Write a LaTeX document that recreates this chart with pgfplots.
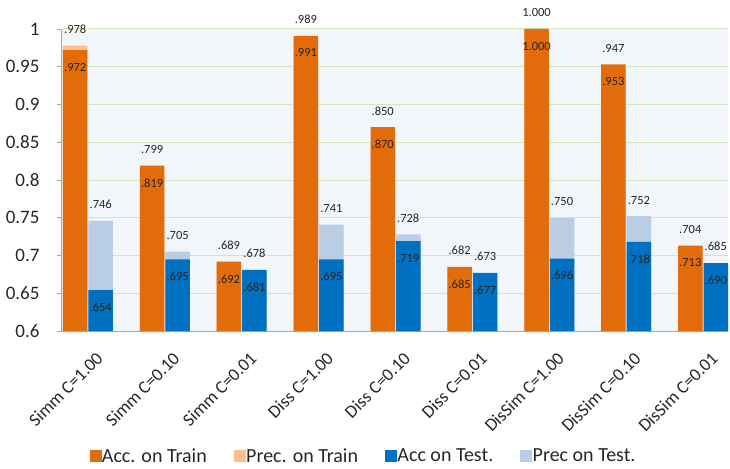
\documentclass[border=0pt]{standalone}
\usepackage{fontspec}
\setmainfont{Carlito}
\usepackage{pgfplots}
\usepackage{pgfplotstable}
\pgfplotsset{compat=1.18}

\definecolor{accTrain}{HTML}{E36C0A}
\definecolor{precTrain}{HTML}{FAC090}
\definecolor{accTest}{HTML}{0070C0}
\definecolor{precTest}{HTML}{B9CDE5}
\definecolor{panel}{HTML}{F2F5FA}
\definecolor{gridgreen}{HTML}{D0E7BE}
\definecolor{axisgray}{HTML}{A6A6A6}
\definecolor{txt}{HTML}{262626}

% accuracy and precision per configuration, on train and test data
\pgfplotstableread{
x trAcc trPrec teAcc tePrec
0 0.972 0.978 0.654 0.746
1 0.819 0.799 0.695 0.705
2 0.692 0.689 0.681 0.678
3 0.991 0.989 0.695 0.741
4 0.870 0.850 0.719 0.728
5 0.685 0.682 0.677 0.673
6 1.000 1.000 0.696 0.750
7 0.953 0.947 0.718 0.752
8 0.713 0.704 0.690 0.685
}\results

\newcommand{\valfmt}{\pgfmathprintnumber[fixed,fixed zerofill,precision=3,skip 0.=true]{\pgfplotspointmeta}}

\begin{document}
\begin{tikzpicture}[x=1pt,y=1pt]
\useasboundingbox (-62,-137) rectangle (668,331);
\begin{axis}[
  width=666pt, height=302pt, scale only axis,
  /pgf/number format/assume math mode=true,
  ymin=0.6, ymax=1, xmin=-0.338, xmax=8.325,
  ytick={0.6,0.65,0.7,0.75,0.8,0.85,0.9,0.95,1},
  xtick={0,...,8},
  xticklabels={Simm C=1.00,Simm C=0.10,Simm C=0.01,Diss C=1.00,Diss C=0.10,Diss C=0.01,DisSim C=1.00,DisSim C=0.10,DisSim C=0.01},
  axis x line*=bottom, axis y line*=left,
  axis line style={axisgray, line width=1pt},
  x axis line style={-}, y axis line style={-},
  xtick style={draw=none},
  ytick style={axisgray, line width=0.8pt},
  tick align=outside, major tick length=5pt,
  ymajorgrids, grid style={gridgreen, line width=1pt},
  axis background/.style={fill=panel},
  yticklabel style={font=\fontsize{19}{19}\selectfont, text=txt, xshift=-14pt},
  xticklabel style={font=\fontsize{18}{18}\selectfont, text=txt, xshift=7pt, yshift=-10pt, rotate=45, anchor=north east},
  ybar, bar width=24.5pt,
  legend style={at={(0.452,-0.415)}, anchor=center, draw=none, fill=none,
    legend columns=4, font=\fontsize{20}{20}\selectfont, text=txt,
    nodes={inner sep=1pt},
    /tikz/every even column/.append style={column sep=26pt}},
  legend image code/.code={\fill[#1] (0pt,-4.5pt) rectangle (11pt,6.5pt);},
  nodes near coords style={font=\fontsize{12.5}{12.5}\selectfont, text=txt},
]
\addlegendimage{accTrain}
\addlegendentry{Acc. on Train}
\addlegendimage{precTrain}
\addlegendentry{Prec. on Train}
\addlegendimage{accTest}
\addlegendentry{Acc on Test.}
\addlegendimage{precTest}
\addlegendentry{Prec on Test.}

% precision bars sit behind the accuracy bars
\addplot[forget plot, fill=precTrain, draw=none, bar shift=-12.75pt] table[x=x, y=trPrec] {\results};
\addplot[forget plot, fill=precTest, draw=none, bar shift=12.75pt] table[x=x, y=tePrec] {\results};
\addplot[forget plot, fill=accTrain, draw=none, bar shift=-12.75pt,
  nodes near coords=\valfmt,
  every node near coord/.append style={anchor=north, yshift=-9.5pt}] table[x=x, y=trAcc] {\results};
\addplot[forget plot, fill=accTest, draw=none, bar shift=12.75pt,
  nodes near coords=\valfmt,
  every node near coord/.append style={anchor=north, yshift=-9.5pt}] table[x=x, y=teAcc] {\results};

% precision values written above the taller of the two bars
\addplot[forget plot, draw=none, fill=none, bar shift=-12.75pt, point meta=explicit,
  nodes near coords=\valfmt,
  every node near coord/.append style={anchor=south, yshift=8.5pt}]
  table[x=x, y expr={max(\thisrow{trAcc},\thisrow{trPrec})}, meta=trPrec] {\results};
\addplot[forget plot, draw=none, fill=none, bar shift=12.75pt, point meta=explicit,
  nodes near coords=\valfmt,
  every node near coord/.append style={anchor=south, yshift=8.5pt}]
  table[x=x, y expr={max(\thisrow{teAcc},\thisrow{tePrec})}, meta=tePrec] {\results};
\end{axis}
\end{tikzpicture}
\end{document}
